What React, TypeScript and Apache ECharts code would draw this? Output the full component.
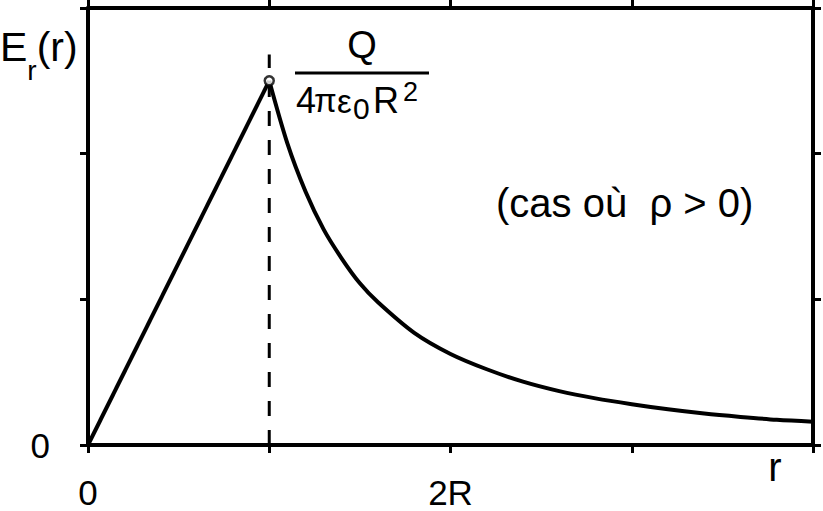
import React, { useEffect, useRef } from "react";
import * as echarts from "echarts";

// r in units of R, E in arbitrary units
const risingR = [0, 1];
const risingE = [0, 2.5];
const fallingR = [1, 1.1, 1.2, 1.3, 1.4, 1.5, 1.6, 1.8, 2.0, 2.2, 2.4, 2.6, 2.8, 3.0, 3.2, 3.4, 3.6, 3.8, 4.0];
const fallingE = [2.5, 2.07, 1.74, 1.48, 1.28, 1.11, 0.98, 0.77, 0.625, 0.52, 0.435, 0.37, 0.32, 0.28, 0.245, 0.216, 0.193, 0.173, 0.16];
const dashedR = [1, 1];
const dashedE = [0, 2.68];
const peak = [1, 2.5];
const xTickLabels: Record<number, string> = { 0: "0", 2: "2R" };
const yTickLabels: Record<number, string> = { 0: "0" };

const FONT = "Liberation Sans, Arial, Helvetica, sans-serif";

export default function App() {
  const ref = useRef<HTMLDivElement>(null);
  useEffect(() => {
    if (!ref.current) return;
    const chart = echarts.init(ref.current, undefined, { renderer: "svg" });
    const axisLine = { show: true, onZero: false, lineStyle: { color: "#000", width: 4 } };
    const axisTick = { show: true, inside: false, length: 8, lineStyle: { color: "#000", width: 3 } };
    const t = (text: string, x: number, y: number, size: number, align = "left") => ({
      type: "text", x, y,
      style: { text, fontSize: size, fontFamily: FONT, fill: "#000", align, verticalAlign: "middle" },
    });
    chart.setOption({
      animation: false,
      backgroundColor: "#fff",
      grid: { left: 88, right: 10, top: 8, bottom: 66 },
      xAxis: [
        {
          type: "value", position: "bottom", min: 0, max: 4, interval: 1,
          axisLine, axisTick, splitLine: { show: false },
          axisLabel: {
            margin: 30, color: "#000", fontSize: 35, fontFamily: FONT,
            formatter: (v: number) => xTickLabels[v] ?? "",
          },
        },
        {
          type: "value", position: "top", min: 0, max: 4, interval: 1,
          axisLine, axisTick, splitLine: { show: false }, axisLabel: { show: false },
        },
      ],
      yAxis: [
        {
          type: "value", position: "left", min: 0, max: 3, interval: 1,
          axisLine, axisTick, splitLine: { show: false },
          axisLabel: {
            margin: 38, color: "#000", fontSize: 35, fontFamily: FONT,
            formatter: (v: number) => yTickLabels[v] ?? "",
          },
        },
        {
          type: "value", position: "right", min: 0, max: 3, interval: 1,
          axisLine, axisTick, splitLine: { show: false }, axisLabel: { show: false },
        },
      ],
      series: [
        {
          type: "line", data: dashedR.map((r, i) => [r, dashedE[i]]), symbol: "none",
          lineStyle: { color: "#000", width: 3, type: [15, 14] }, z: 2,
        },
        {
          type: "line", data: risingR.map((r, i) => [r, risingE[i]]), symbol: "none",
          lineStyle: { color: "#000", width: 4 }, z: 3,
        },
        {
          type: "line", data: fallingR.map((r, i) => [r, fallingE[i]]), symbol: "none", smooth: 0.3,
          lineStyle: { color: "#000", width: 4 }, z: 3,
        },
        {
          type: "scatter", data: [peak], symbol: "circle", symbolSize: 9,
          itemStyle: { color: "#fff", borderColor: "#000", borderWidth: 2.5 }, z: 5,
        },
      ],
      graphic: [
        {
          type: "text", left: 0, top: 26,
          style: {
            text: "{e|E}{s|r}{e|(r)}", fill: "#000", fontFamily: FONT,
            rich: {
              e: { fontSize: 41, fontFamily: FONT, fill: "#000", verticalAlign: "top", lineHeight: 44 },
              s: { fontSize: 28, fontFamily: FONT, fill: "#000", verticalAlign: "bottom", lineHeight: 44, padding: [0, 0, -14, 0] },
            },
          },
        },
        t("Q", 362, 45, 38, "center"),
        { type: "rect", shape: { x: 295, y: 71.5, width: 134, height: 3 }, style: { fill: "#000" } },
        t("4", 296, 100, 36),
        t("π", 314, 100, 33),
        t("ε", 337, 101, 33),
        t("0", 353, 108, 30),
        t("R", 373, 100, 36),
        t("2", 403, 92, 27),
        t("(cas où  ρ > 0)", 496, 203, 40),
        t("r", 775, 467, 40, "center"),
      ],
    });
    return () => chart.dispose();
  }, []);
  return <div ref={ref} style={{ width: 823, height: 511, position: "absolute", left: 0, top: 0 }} />;
}
